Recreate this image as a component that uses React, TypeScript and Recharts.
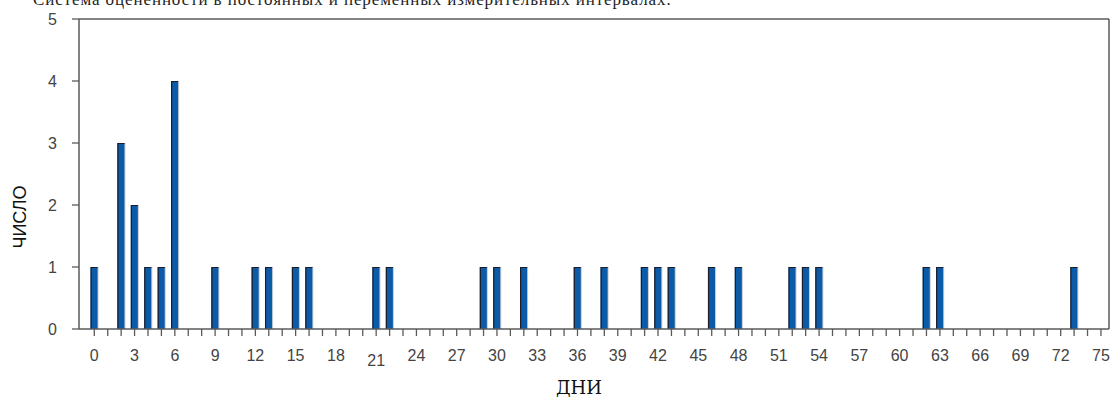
import React from "react";
import { Bar, BarChart, ReferenceLine, XAxis, YAxis } from "recharts";

// дни, в которые было хотя бы одно событие, и их число
const days = [0, 2, 3, 4, 5, 6, 9, 12, 13, 15, 16, 21, 22, 29, 30, 32, 36, 38, 41, 42, 43, 46, 48, 52, 53, 54, 62, 63, 73];
const counts = [1, 3, 2, 1, 1, 4, 1, 1, 1, 1, 1, 1, 1, 1, 1, 1, 1, 1, 1, 1, 1, 1, 1, 1, 1, 1, 1, 1, 1];
const xTicks = Array.from({ length: 76 }, (_, i) => i);
const yTicks = [0, 1, 2, 3, 4, 5];
const title = "Система оцененности в постоянных и переменных измерительных интервалах.";

const data = days.map((d, i) => ({ day: d, count: counts[i] }));

const axisColor = "#5a5a5a";
const tickColor = "#444";

function DayTick(props: any) {
  const { x, y, payload } = props;
  const v = payload.value;
  if (v % 3 !== 0) return null;
  // "21" в оригинале стоит чуть ниже остальных
  const shift = v === 21 ? 5 : 0;
  return (
    <text
      x={x}
      y={y + shift}
      dy="0.71em"
      textAnchor="middle"
      fill={tickColor}
      fontSize={16}
      fontFamily="'Liberation Sans', Arial, sans-serif"
    >
      {v}
    </text>
  );
}

function BevelBar(props: any) {
  const { x, y, width, height } = props;
  if (!height || height <= 0) return null;
  return (
    <g>
      <rect x={x + 1} y={y} width={width} height={height} fill="#c9c9d2" />
      <rect x={x} y={y} width={width} height={height} fill="#0b5ba8" />
      <path
        d={`M${x + 0.5},${y + height} V${y + 0.5} H${x + width}`}
        stroke="#1c1c2a"
        strokeWidth={1.2}
        fill="none"
      />
    </g>
  );
}

export default function App() {
  return (
    <div style={{ position: "absolute", left: 0, top: 0, width: 1114, height: 400, background: "#fff", overflow: "hidden" }}>
      <div
        style={{
          position: "absolute",
          left: 33,
          top: -9,
          fontFamily: "'Liberation Serif', 'Times New Roman', serif",
          fontSize: 17,
          letterSpacing: 0.9,
          color: "#222",
          whiteSpace: "nowrap",
          lineHeight: 1,
        }}
      >
        {title}
      </div>
      <BarChart
        width={1114}
        height={400}
        data={data}
        margin={{ top: 19, right: 5, bottom: 31, left: 39 }}
      >
        <XAxis
          dataKey="day"
          type="number"
          domain={[-1.14, 75.6]}
          allowDataOverflow
          ticks={xTicks}
          interval={0}
          height={40}
          tickSize={7}
          tickMargin={14}
          tick={<DayTick />}
          tickLine={{ stroke: axisColor, strokeWidth: 1.3 }}
          axisLine={{ stroke: axisColor, strokeWidth: 1.5 }}
        />
        <YAxis
          type="number"
          domain={[0, 5]}
          ticks={yTicks}
          width={40}
          tickSize={7}
          tickMargin={15}
          tick={{ fill: tickColor, fontSize: 16, fontFamily: "'Liberation Sans', Arial, sans-serif" }}
          tickLine={{ stroke: axisColor, strokeWidth: 1.3 }}
          axisLine={{ stroke: axisColor, strokeWidth: 1.5 }}
        />
        <ReferenceLine y={5} stroke={axisColor} strokeWidth={1.5} />
        <ReferenceLine x={75.6} stroke={axisColor} strokeWidth={1.5} />
        <Bar dataKey="count" barSize={7} shape={<BevelBar />} isAnimationActive={false} />
      </BarChart>
      <div
        style={{
          position: "absolute",
          left: 20,
          top: 217,
          transform: "translate(-50%, -50%) rotate(-90deg)",
          fontFamily: "'Liberation Sans', Arial, sans-serif",
          fontSize: 18,
          color: "#111",
          whiteSpace: "nowrap",
          lineHeight: 1,
        }}
      >
        ЧИСЛО
      </div>
      <div
        style={{
          position: "absolute",
          left: 579,
          top: 379,
          transform: "translateX(-50%)",
          fontFamily: "'DejaVu Serif', 'Liberation Serif', serif",
          fontSize: 18,
          color: "#111",
          whiteSpace: "nowrap",
          lineHeight: 1,
        }}
      >
        ДНИ
      </div>
    </div>
  );
}
